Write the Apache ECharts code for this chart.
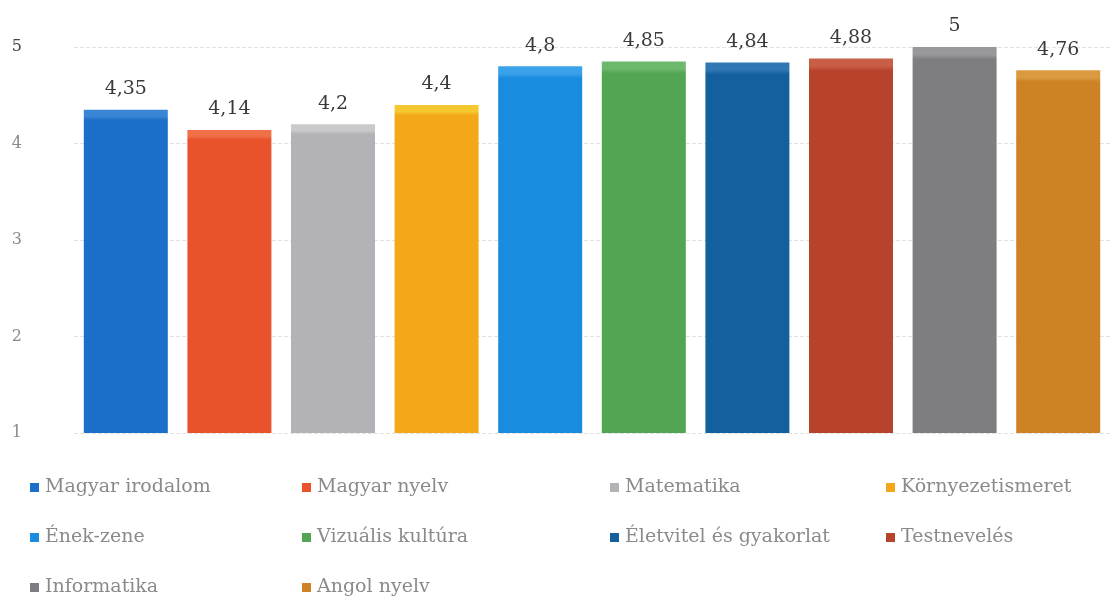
<!DOCTYPE html>
<html><head><meta charset="utf-8">
<script src="https://cdn.jsdelivr.net/npm/echarts@6/dist/echarts.min.js"></script>
<style>html,body{margin:0;padding:0;background:#fff}#c{width:1110px;height:598px}</style>
</head><body><div id="c"></div>
<script>
const subjects = ["Magyar irodalom","Magyar nyelv","Matematika","Környezetismeret","Ének-zene","Vizuális kultúra","Életvitel és gyakorlat","Testnevelés","Informatika","Angol nyelv"];
const values = [4.35,4.14,4.2,4.4,4.8,4.85,4.84,4.88,5,4.76];
const yTicks = [1,2,3,4,5];
const baseColors = ["#1c6fc8","#e9522a","#b3b3b7","#f3a81a","#1a8ce0","#52a552","#14609f","#b8432c","#7e7e82","#cf8223"];
const topColors  = ["#3a86d6","#f07048","#cacacd","#f6c830","#3aa2ea","#6cb86c","#2f78b4","#c85e46","#98989c","#dc9a40"];
const legendRow = [0,0,0,0,1,1,1,1,2,2];
const legendCol = [0,1,2,3,0,1,2,3,0,1];
const legendLeft = [30,302,610,886];

const serif = "DejaVu Serif";
function grad(i){
  return new echarts.graphic.LinearGradient(0,0,0,1,[
    {offset:0,color:topColors[i]},
    {offset:0.02,color:topColors[i]},
    {offset:0.032,color:baseColors[i]},
    {offset:1,color:baseColors[i]}
  ]);
}
const series = subjects.map((name,i)=>({
  name:name,
  type:'bar',
  stack:'all',
  barWidth:84,
  data:values.map((v,j)=> j===i ? v : '-'),
  itemStyle:{color:grad(i)},
  label:{show:true,position:'top',distance:11,
    formatter:p=>String(p.value).replace('.',','),
    fontFamily:serif,fontSize:19,color:'#3a3a3a'}
}));
const legends = subjects.map((name,i)=>({
  left:legendLeft[legendCol[i]],
  top:478 + legendRow[i]*50,
  padding:0,
  itemWidth:9,itemHeight:9,
  icon:'rect',
  data:[name],
  textStyle:{fontFamily:serif,fontSize:19,color:'#8a8a8a',padding:[0,0,0,1]}
}));
const chart = echarts.init(document.getElementById('c'));
chart.setOption({
  animation:false,
  grid:{left:74,right:-5,top:47,bottom:165,containLabel:false},
  xAxis:{type:'category',data:subjects,show:false},
  yAxis:{type:'value',min:1,max:5,interval:1,
    axisLine:{show:false},axisTick:{show:false},
    axisLabel:{margin:52,fontFamily:serif,fontSize:16,
      color:v=> v==5 ? '#444' : '#8a8a8a',
      formatter:v=> yTicks.includes(v)? String(v):''},
    splitLine:{lineStyle:{color:'#e2e2e2',type:'dashed'}}},
  legend:legends,
  series:series
});
</script></body></html>
